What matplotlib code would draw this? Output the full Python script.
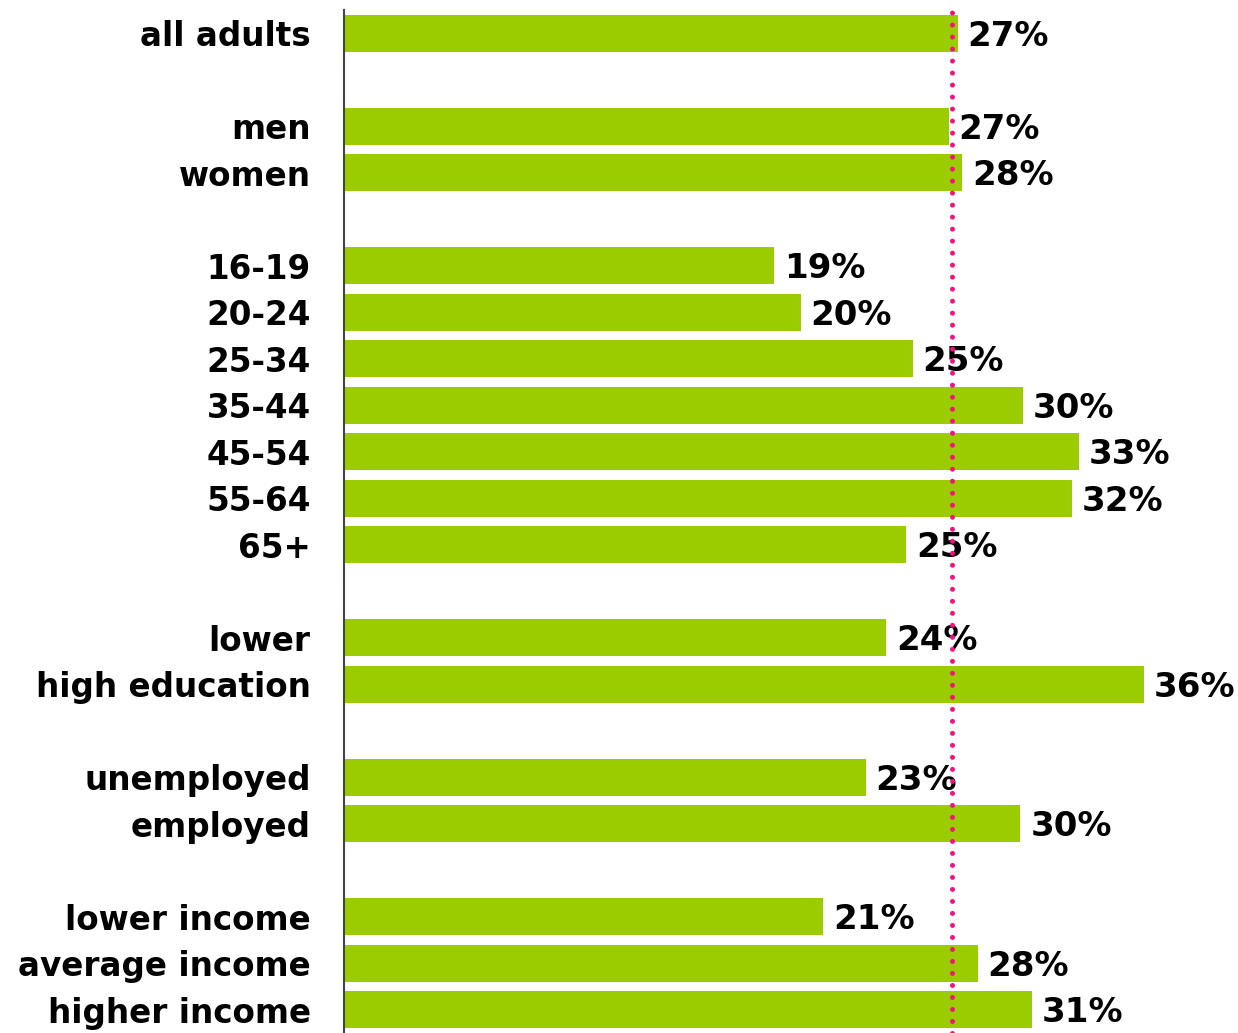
import numpy as np
import matplotlib.pyplot as plt

# groups and shares (percent)
labels = ["all adults",
          "men", "women",
          "16-19", "20-24", "25-34", "35-44", "45-54", "55-64", "65+",
          "lower", "high education",
          "unemployed", "employed",
          "lower income", "average income", "higher income"]
values = [27.4,
          27.0, 27.6,
          19.2, 20.4, 25.4, 30.3, 32.8, 32.5, 25.1,
          24.2, 35.7,
          23.3, 30.2,
          21.4, 28.3, 30.7]
# slot of each bar (empty slots separate the groups)
slots = [0, 2, 3, 5, 6, 7, 8, 9, 10, 11, 13, 14, 16, 17, 19, 20, 21]
average = 27.15

fig = plt.figure(figsize=(12.38, 10.33), dpi=100)
ax = fig.add_axes([344/1238, 0, 896/1238, 1023/1033])

ax.barh(slots, values, height=0.8, color="#9bcc00")
for s, v in zip(slots, values):
    ax.annotate(f"{v:.0f}%", (v, s), xytext=(7, -2), textcoords="offset points",
                va="center", ha="left", fontsize=24.5, fontweight="bold")

# dotted average line
ax.axvline(average, color="#f5127f", lw=3.6, linestyle=(0, (0.001, 2.4)),
           dash_capstyle="round", zorder=3)

ax.set_xlim(0, 40)
ax.set_ylim(21.5, -0.5)
ax.set_yticks(slots)
ax.set_yticklabels(labels, fontsize=23.5, fontweight="bold")
ax.tick_params(axis="y", length=0, pad=24)
ax.set_xticks([])
for side in ["top", "right", "bottom"]:
    ax.spines[side].set_visible(False)
ax.spines["left"].set_color("#444444")
ax.spines["left"].set_linewidth(1.5)

fig.savefig("out.png", dpi=100)
